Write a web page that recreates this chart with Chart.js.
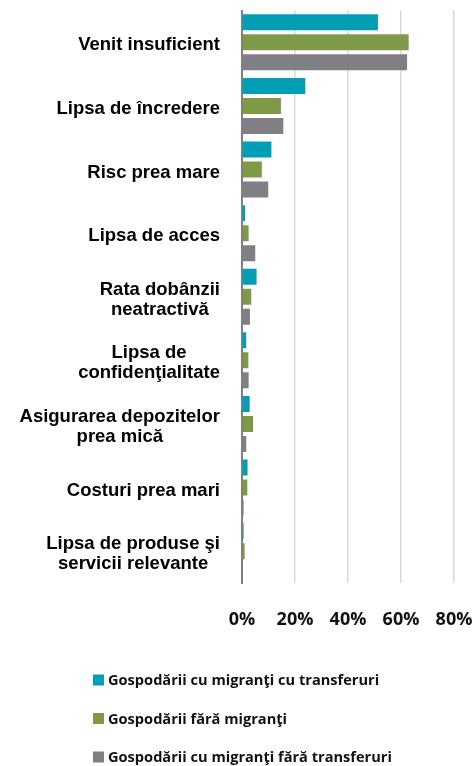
<!DOCTYPE html>
<html>
<head>
<meta charset="utf-8">
<script src="https://cdn.jsdelivr.net/npm/chart.js@4"></script>
<style>
  html, body { margin: 0; padding: 0; background: #fff; }
  #wrap { width: 473px; height: 766px; }
</style>
</head>
<body>
<div id="wrap"><canvas id="chart" width="473" height="766"></canvas></div>
<script>
// ─── Data ───────────────────────────────────────────
const categories = [
  ['Venit insuficient'],
  ['Lipsa de încredere'],
  ['Risc prea mare'],
  ['Lipsa de acces'],
  ['Rata dobânzii', 'neatractivă'],
  ['Lipsa de', 'confidenţialitate'],
  ['Asigurarea depozitelor', 'prea mică'],
  ['Costuri prea mari'],
  ['Lipsa de produse şi', 'servicii relevante'],
];
const seriesNames = [
  'Gospodării cu migranţi cu transferuri',
  'Gospodării fără migranţi',
  'Gospodării cu migranţi fără transferuri',
];
const withTransfers    = [51.3, 23.9, 11.1, 1.2, 5.5, 1.6, 2.9, 2.1, 0.6];
const noMigrants       = [62.9, 14.7, 7.5, 2.5, 3.5, 2.4, 4.2, 2.0, 1.0];
const withoutTransfers = [62.3, 15.6, 9.9, 5.0, 3.0, 2.5, 1.6, 0.6, 0.3];
const xTicks = [0, 20, 40, 60, 80];
const COLORS = ['#009fb6', '#7f9a47', '#7f7f85'];

// ─── Category labels: right-aligned block, lines centred ─
const catLabels = {
  id: 'catLabels',
  afterDraw(chart) {
    const { ctx, scales: { y }, chartArea } = chart;
    ctx.save();
    ctx.font = 'bold 18.5px "Liberation Sans", Arial, sans-serif';
    ctx.fillStyle = '#000';
    ctx.textAlign = 'center';
    ctx.textBaseline = 'middle';
    const right = chartArea.left - 22;
    categories.forEach((lines, i) => {
      const cy = y.getPixelForTick(i) + 3;
      const maxW = Math.max(...lines.map(l => ctx.measureText(l).width));
      const cx = right - maxW / 2;
      const lh = 20;
      lines.forEach((l, j) => {
        ctx.fillText(l, cx, cy + (j - (lines.length - 1) / 2) * lh);
      });
    });
    ctx.restore();
  }
};

// ─── Legend, stacked and left aligned ───────────────
const stackLegend = {
  id: 'stackLegend',
  afterDraw(chart) {
    const { ctx } = chart;
    const rows = [680, 718.5, 757];
    ctx.save();
    ctx.font = 'bold 14.6px "Open Sans", sans-serif';
    ctx.textBaseline = 'middle';
    ctx.textAlign = 'left';
    seriesNames.forEach((name, i) => {
      ctx.fillStyle = COLORS[i];
      ctx.fillRect(93, rows[i] - 5.5, 11, 11);
      ctx.fillStyle = '#111';
      ctx.fillText(name, 108, rows[i] + 1);
    });
    ctx.restore();
  }
};

new Chart(document.getElementById('chart'), {
  type: 'bar',
  data: {
    labels: categories,
    datasets: [withTransfers, noMigrants, withoutTransfers].map((d, i) => ({
      label: seriesNames[i],
      data: d,
      backgroundColor: COLORS[i],
      borderWidth: 0,
      barPercentage: 0.8,
      categoryPercentage: 0.943,
    })),
  },
  options: {
    indexAxis: 'y',
    responsive: false,
    animation: false,
    layout: { padding: { top: 10.5, right: 19, left: 0, bottom: 0 } },
    plugins: { legend: { display: false }, tooltip: { enabled: false } },
    scales: {
      x: {
        min: 0, max: 80,
        afterBuildTicks: s => { s.ticks = xTicks.map(v => ({ value: v })); },
        afterFit: s => { s.height = 766 - 583; s.paddingLeft = 0; s.paddingRight = 0; },
        ticks: {
          padding: 26,
          color: '#111',
          font: { family: 'Open Sans', size: 18, weight: 'bold' },
          callback: v => v + '%',
        },
        grid: { color: '#d9d9d9', lineWidth: 1.5, drawTicks: false },
        border: { display: false },
      },
      y: {
        afterFit: s => { s.width = 242; s.paddingTop = 0; s.paddingBottom = 0; },
        ticks: { display: false },
        grid: { display: false, drawTicks: false },
        border: { display: true, color: '#7f7f7f', width: 2 },
      },
    },
  },
  plugins: [catLabels, stackLegend],
});
</script>
</body>
</html>
